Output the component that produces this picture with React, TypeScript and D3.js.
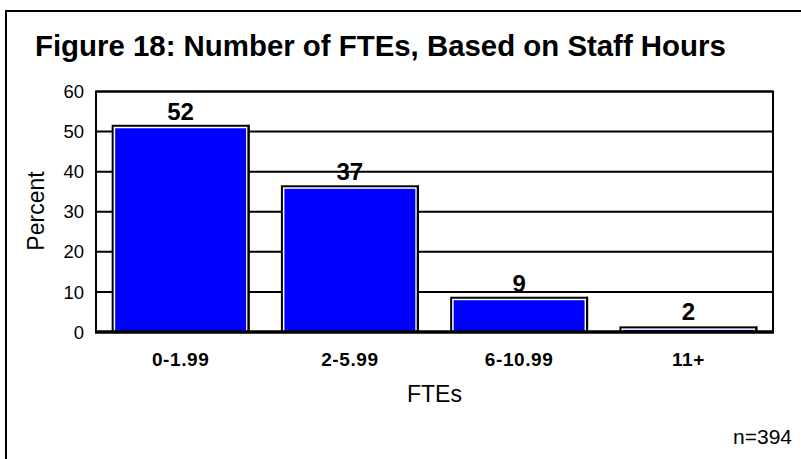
import React from "react";
import * as d3 from "d3";

const categories = ["0-1.99", "2-5.99", "6-10.99", "11+"];
const values = [51.7, 36.6, 8.8, 1.4];
const labels = [52, 37, 9, 2];
const yTicks = [0, 10, 20, 30, 40, 50, 60];

const W = 801;
const H = 459;
const plot = { left: 96, right: 773, top: 91.5, bottom: 332 };
const FONT = "'Liberation Sans', Arial, sans-serif";

export default function App() {
  const x = d3
    .scaleBand<string>()
    .domain(categories)
    .range([plot.left, plot.right])
    .paddingInner(0.185)
    .paddingOuter(0.0925);
  const y = d3.scaleLinear().domain([0, 60]).range([plot.bottom, plot.top]);

  return (
    <svg
      width={W}
      height={H}
      style={{ position: "absolute", left: 0, top: 0, background: "#fff" }}
      fontFamily={FONT}
    >
      <rect x={0} y={0} width={W} height={H} fill="#fff" />
      {/* outer frame */}
      <rect x={6} y={11} width={W + 50} height={H + 50} fill="none" stroke="#000" strokeWidth={2} />
      {/* title */}
      <text x={35} y={55.5} fontSize={29.4} fontWeight="bold" fill="#000">
        Figure 18: Number of FTEs, Based on Staff Hours
      </text>
      {/* gridlines */}
      {yTicks.map((t) => (
        <line
          key={"g" + t}
          x1={plot.left}
          x2={plot.right}
          y1={y(t)}
          y2={y(t)}
          stroke="#000"
          strokeWidth={2}
        />
      ))}
      {/* plot border */}
      <rect
        x={plot.left}
        y={plot.top}
        width={plot.right - plot.left}
        height={plot.bottom - plot.top}
        fill="none"
        stroke="#000"
        strokeWidth={2}
      />
      {/* bars */}
      {categories.map((c, i) => {
        const x0 = x(c) as number;
        const bw = x.bandwidth();
        const top = y(values[i]);
        const h = plot.bottom - top;
        return (
          <g key={c}>
            <rect x={x0} y={top} width={bw} height={h} fill="#000" />
            <rect x={x0 + 2} y={top + 2} width={bw - 4} height={Math.max(0, h - 2)} fill="#fff" />
            <rect x={x0 + 3.5} y={top + 3.5} width={bw - 7} height={Math.max(0, h - 3.5)} fill="#0000ff" />
            <rect x={x0 + bw - 2} y={top} width={2} height={h} fill="#000" />
          </g>
        );
      })}
      {/* bottom axis line */}
      <line x1={plot.left - 1} x2={plot.right + 1} y1={plot.bottom} y2={plot.bottom} stroke="#000" strokeWidth={3.5} />
      {/* bar labels */}
      {categories.map((c, i) => (
        <text
          key={"l" + c}
          x={(x(c) as number) + x.bandwidth() / 2}
          y={y(labels[i]) - 3.5}
          textAnchor="middle"
          fontSize={24}
          fontWeight="bold"
          fill="#000"
        >
          {labels[i]}
        </text>
      ))}
      {/* y tick labels */}
      {yTicks.map((t) => (
        <text
          key={"t" + t}
          x={84}
          y={y(t)}
          dy="0.36em"
          textAnchor="end"
          fontSize={18.5}
          fill="#000"
        >
          {t}
        </text>
      ))}
      {/* x tick labels */}
      {categories.map((c) => (
        <text
          key={"x" + c}
          x={(x(c) as number) + x.bandwidth() / 2}
          y={366}
          textAnchor="middle"
          fontSize={19}
          fontWeight="bold"
          letterSpacing={0.6}
          fill="#000"
        >
          {c}
        </text>
      ))}
      {/* axis titles */}
      <text
        transform={`translate(44, 211) rotate(-90)`}
        textAnchor="middle"
        fontSize={23}
        fill="#000"
      >
        Percent
      </text>
      <text x={434.5} y={402} textAnchor="middle" fontSize={23} fill="#000">
        FTEs
      </text>
      <text x={792} y={444} textAnchor="end" fontSize={21} fill="#000">
        n=394
      </text>
    </svg>
  );
}
